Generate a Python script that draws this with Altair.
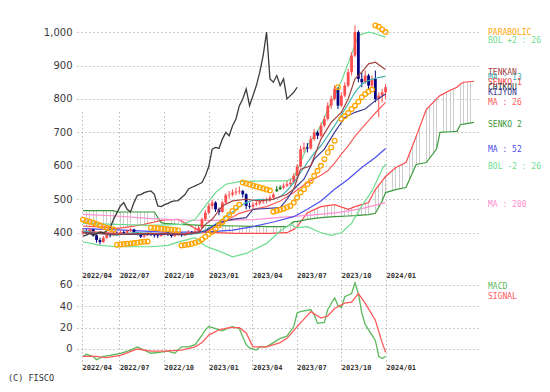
import altair as alt
import pandas as pd

# ---------------- data (weekly, week 0 = 2022-04-17) ----------------
START = pd.Timestamp("2022-04-17")

OPEN = [400, 405, 398, 410, 392, 378, 372, 385, 395, 392, 400, 396, 402, 398, 405, 410, 400, 395, 388, 392,
        398, 395, 392, 390, 396, 400, 395, 390, 393, 398, 392, 396, 402, 400, 405, 415, 440, 460, 480, 490,
        470, 462, 490, 512, 514, 520, 523, 525, 515, 480, 478, 484, 488, 493, 495, 496, 505, 524, 530, 535,
        540, 545, 550, 570, 598, 650, 655, 652, 680, 700, 690, 720, 740, 780, 800, 830, 780, 810, 840, 880,
        930, 1000, 860, 850, 870, 840, 860, 800, 810, 820]
HIGH = [412, 410, 415, 412, 395, 385, 390, 400, 398, 405, 404, 408, 406, 410, 415, 412, 403, 398, 396, 402,
        400, 398, 395, 400, 405, 402, 398, 398, 402, 400, 400, 408, 405, 412, 420, 445, 468, 488, 498, 494,
        475, 495, 518, 525, 530, 535, 538, 528, 518, 490, 492, 495, 500, 502, 505, 512, 520, 540, 542, 548,
        555, 560, 578, 605, 660, 670, 668, 690, 710, 705, 730, 750, 790, 810, 840, 835, 820, 850, 890, 940,
        1020, 1005, 880, 885, 875, 870, 885, 820, 830, 845]
LOW = [392, 395, 396, 388, 370, 365, 370, 382, 386, 390, 392, 394, 394, 396, 402, 396, 392, 384, 385, 390,
       390, 386, 384, 388, 392, 390, 385, 387, 390, 388, 390, 394, 394, 398, 402, 412, 435, 455, 470, 462,
       452, 460, 486, 502, 508, 512, 515, 505, 470, 472, 474, 480, 482, 486, 488, 492, 500, 522, 528, 530,
       536, 540, 546, 565, 595, 640, 640, 648, 675, 680, 685, 715, 735, 770, 795, 770, 775, 805, 835, 870,
       925, 850, 835, 845, 830, 835, 790, 745, 790, 800]
CLOSE = [405, 398, 410, 392, 378, 372, 385, 395, 392, 400, 396, 402, 398, 405, 410, 400, 395, 388, 392, 398,
         395, 392, 390, 396, 400, 395, 390, 393, 398, 392, 396, 402, 400, 405, 415, 440, 460, 480, 490, 470,
         462, 490, 512, 514, 520, 523, 525, 515, 480, 478, 484, 488, 493, 495, 496, 505, 514, 530, 536, 540,
         545, 550, 570, 598, 650, 655, 652, 680, 700, 690, 720, 740, 780, 800, 830, 780, 810, 840, 880, 930,
         1000, 860, 850, 870, 840, 860, 800, 810, 820, 835]
FLAT_WEEKS = [57, 58]
CHIKOU_SHIFT = 26

SAR = [439, 436, 433, 430, 426, 422, 418, 415, 412, 409,
       364, 365, 366, 367, 368, 369, 370, 372, 373, 374,
       415, 414, 413, 412, 411, 410, 409, 408, 407,
       362, 363, 365, 367, 370, 374, 380, 388, 396,
       403, 412, 422, 432, 443, 454, 465, 475, 484,
       550, 547, 544, 541, 538, 535, 532, 529, 526,
       463, 466, 469, 472, 476, 480, 490, 505,
       520, 530, 545, 555, 570, 585, 600, 620, 640, 655, 675,
       835,
       740, 748, 758, 770, 780, 792, 805, 815, 822, 828,
       1020, 1016, 1008, 1000]

CLOUD_W = [0, 8, 9, 10, 12, 18, 21, 23, 24, 28, 35, 45, 55, 60, 62, 63, 66, 70, 74, 78,
           80, 84, 86, 88, 89, 92, 95, 98, 101, 104, 105, 108, 110, 111, 112, 115]
SENKOU1 = [420, 415, 413, 413, 415, 425, 432, 436, 438, 440, 402, 398, 398, 400, 410, 418, 460, 478, 484, 470,
           478, 490, 529, 555, 568, 595, 610, 688, 769, 800, 810, 826, 835, 845, 850, 853]
SENKOU2 = [466, 466, 466, 462, 462, 462, 462, 430, 428, 425, 422, 420, 418, 418, 433, 433, 440, 445, 448, 450,
           451, 454, 458, 495, 520, 529, 535, 604, 610, 650, 700, 702, 703, 723, 725, 730]

MA13_W = [0, 5, 10, 15, 20, 25, 30, 34, 36, 38, 40, 42, 44, 46, 48, 50, 52, 54, 56, 58,
          60, 62, 64, 66, 68, 70, 72, 74, 76, 78, 80, 82, 84, 86, 88, 89]
MA13_V = [405, 398, 393, 400, 398, 395, 394, 398, 408, 420, 432, 448, 462, 478, 490, 497, 500, 498, 500, 508,
          525, 550, 580, 610, 638, 660, 690, 720, 752, 785, 820, 845, 855, 862, 866, 868]
MA26_W = [0, 10, 20, 30, 35, 38, 42, 46, 50, 54, 58, 62, 66, 70, 72, 74, 76, 78, 80, 82, 84, 86, 89]
MA26_V = [405, 398, 396, 397, 400, 412, 435, 458, 470, 478, 495, 520, 550, 572, 585, 608, 635, 660, 688, 712,
          735, 758, 790]
MA52_W = [0, 12, 24, 36, 44, 50, 56, 62, 66, 70, 74, 78, 82, 86, 89]
MA52_V = [412, 408, 402, 402, 408, 418, 432, 448, 470, 495, 530, 560, 595, 625, 652]
MA200_W = [0, 10, 20, 30, 40, 50, 58, 66, 75, 82, 89]
MA200_V = [455, 450, 442, 438, 437, 439, 446, 452, 460, 472, 490]
BOLU_W = [0, 10, 20, 29, 33, 36, 39, 42, 46, 54, 60, 62, 64, 66, 70, 73, 76, 79, 81, 84, 86, 89]
BOLU_V = [428, 425, 422, 425, 440, 480, 520, 545, 553, 555, 555, 565, 610, 660, 720, 790, 853, 934, 990, 1000,
          995, 985]
BOLL_W = [0, 5, 10, 20, 25, 29, 33, 36, 40, 44, 48, 54, 58, 61, 63, 66, 70, 73, 76, 79, 82, 85, 88, 89]
BOLL_V = [373, 362, 358, 358, 362, 375, 385, 360, 345, 328, 338, 368, 405, 425, 415, 418, 400, 392, 400, 428,
          480, 525, 590, 605]
TENKAN_W = [0, 10, 20, 30, 34, 36, 38, 41, 44, 48, 52, 56, 60, 62, 64, 67, 70, 73, 76, 78, 80, 82, 84, 86, 88, 89]
TENKAN_V = [400, 395, 398, 396, 400, 425, 440, 480, 495, 500, 495, 500, 515, 530, 590, 600, 680, 730, 760, 800,
            860, 880, 905, 910, 895, 888]
KIJUN_W = [0, 10, 20, 30, 36, 40, 44, 48, 50, 58, 60, 62, 65, 68, 71, 74, 77, 80, 83, 86, 89]
KIJUN_V = [400, 395, 395, 395, 405, 430, 440, 445, 470, 475, 500, 530, 560, 620, 650, 700, 745, 760, 770, 795, 815]

MACD_W = [0, 1, 3, 4, 6, 8, 11, 14, 16, 18, 20, 23, 25, 27, 29, 31, 33, 35, 36, 37, 39, 41, 43, 44, 46, 48, 49,
          51, 52, 54, 56, 58, 60, 62, 63, 64, 67, 68, 69, 71, 72, 74, 75, 76, 77, 79, 80, 81, 82, 83, 85, 86,
          87, 88, 89]
MACD_V = [-7, -5, -7, -10, -7, -6, -4, -1, 2, -1, -4, -3, -2, -4, 2, 2, 4, 13, 18, 21, 19, 17, 20, 21, 19, 4, 1,
          -1, 2, 2, 6, 10, 12, 21, 34, 35, 37, 32, 24, 25, 37, 48, 41, 39, 49, 52, 62, 52, 34, 23, 13, 8,
          -7, -9, -7]
SIG_W = [0, 4, 7, 11, 16, 20, 24, 29, 33, 35, 37, 40, 43, 46, 48, 50, 54, 58, 60, 63, 67, 70, 72, 74, 77, 79,
         81, 83, 86, 88, 89]
SIG_V = [-7, -7, -8, -6, 0, -2, -2, -1, 2, 6, 13, 18, 20, 20, 15, 2, 2, 6, 10, 21, 35, 29, 31, 38, 43, 44,
         52, 43, 27, 6, -3]

LEG_TEXT = ["PARABOLIC", "BOL +2 : 26", "TENKAN", "MA : 13", "SENKO 1", "CHIKOU", "KIJYON", "MA : 26",
            "SENKO 2", "MA : 52", "BOL -2 : 26", "MA : 200"]
LEG_Y = [996, 974, 877, 862, 848, 833, 817, 788, 722, 647, 596, 483]
MACD_LEG_TEXT = ["MACD", "SIGNAL"]
MACD_LEG_Y = [58, 48.7]

PRICE_TICKS = [400, 500, 600, 700, 800, 900, 1000]
MACD_TICKS = [0, 20, 40, 60]
TICK_DATES = [(2022, 4, 15), (2022, 7, 1), (2022, 10, 1), (2023, 1, 1), (2023, 4, 1), (2023, 7, 1),
              (2023, 10, 1), (2024, 1, 1)]

# ---------------- styles ----------------
C_UP, C_DOWN, C_FLAT = "#ff4d4d", "#000080", "#1e7a1e"
C_MA13, C_MA26, C_MA52, C_MA200 = "#3fb0b0", "#ff5b5b", "#4d4df0", "#ff8fd0"
C_BOL, C_TENKAN, C_KIJUN = "#6ddc8f", "#a3423f", "#3d3d94"
C_S1, C_S2, C_CHIKOU, C_SAR = "#ff4a4a", "#3a9a3a", "#3c3c3c", "#ffa500"
C_MACD, C_SIG = "#5cb85c", "#ff5a5a"
LEG_COLORS = [C_SAR, C_BOL, C_TENKAN, C_MA13, C_S1, C_CHIKOU, C_KIJUN, C_MA26, C_S2, C_MA52, C_BOL, C_MA200]
GRID = "#9a9a9a"


def dates(weeks):
    return [START + pd.Timedelta(days=7 * w) for w in weeks]


# ---------------- tables ----------------
n = len(CLOSE)
candles = pd.DataFrame({"date": dates(range(n)), "o": OPEN, "h": HIGH, "l": LOW, "c": CLOSE})
candles["col"] = [C_FLAT if i in FLAT_WEEKS else (C_UP if CLOSE[i] >= OPEN[i] else C_DOWN) for i in range(n)]

chikou = pd.DataFrame({"date": dates(range(n - CHIKOU_SHIFT)), "v": CLOSE[CHIKOU_SHIFT:]})
sar = pd.DataFrame({"date": dates(range(n)), "v": SAR})
cloud = pd.DataFrame({"date": dates(CLOUD_W), "s1": SENKOU1, "s2": SENKOU2})


def series(name, w, v, color):
    return pd.DataFrame({"series": name, "date": dates(w), "v": v, "color": color})


back_lines = pd.concat([
    series("MA200", MA200_W, MA200_V, C_MA200),
    series("MA52", MA52_W, MA52_V, C_MA52),
    series("BOLU", BOLU_W, BOLU_V, C_BOL),
    series("BOLL", BOLL_W, BOLL_V, C_BOL),
])
front_lines = pd.concat([
    series("MA26", MA26_W, MA26_V, C_MA26),
    series("MA13", MA13_W, MA13_V, C_MA13),
    series("KIJUN", KIJUN_W, KIJUN_V, C_KIJUN),
    series("TENKAN", TENKAN_W, TENKAN_V, C_TENKAN),
])
macd_df = pd.concat([
    series("MACD", MACD_W, MACD_V, C_MACD),
    series("SIGNAL", SIG_W, SIG_V, C_SIG),
])
legend = pd.DataFrame({"t": LEG_TEXT, "y": LEG_Y, "color": LEG_COLORS})
macd_legend = pd.DataFrame({"t": MACD_LEG_TEXT, "y": MACD_LEG_Y, "color": [C_MACD, C_SIG]})

# ---------------- scales & axes ----------------
X_SCALE = alt.Scale(domain=[alt.DateTime(year=2022, month=4, date=15),
                            alt.DateTime(year=2024, month=6, date=28)], nice=False)
PRICE_SCALE = alt.Scale(domain=[300, 1072], range=[258.15, 0], nice=False, zero=False)
MACD_SCALE = alt.Scale(domain=[-20, 70], range=[362.33, 266.33], nice=False, zero=False)
TICKS = [alt.DateTime(year=y, month=m, date=d) for (y, m, d) in TICK_DATES]


def x_axis(offset, grid):
    return alt.Axis(values=TICKS, format="%Y/%m", formatType="time", orient="bottom", offset=offset,
                    grid=grid, gridColor=GRID, gridDash=[1, 3], gridWidth=1, domain=False, ticks=False,
                    tickSize=0, labelAlign="left", labelBaseline="top", labelPadding=2,
                    labelFont="DejaVu Sans Mono", labelFontSize=7, labelFontWeight="bold",
                    labelColor="#333333", labelFlush=False, labelOverlap=False, labelBound=False, title=None)


def y_axis(vals, fmt):
    return alt.Axis(values=vals, format=fmt, orient="left", grid=True, gridColor=GRID, gridDash=[1, 3],
                    gridWidth=1, domain=False, ticks=False, tickSize=0, labelPadding=5,
                    labelFont="DejaVu Sans", labelFontSize=10, labelColor="#3a3a3a", title=None)


X_TOP = alt.X("date:T", scale=X_SCALE, axis=x_axis(-100.5, True))
X_BOT = alt.X("date:T", scale=X_SCALE, axis=x_axis(-8.5, False))
PRICE_AXIS = y_axis(PRICE_TICKS, ",d")
MACD_AXIS = y_axis(MACD_TICKS, "d")


def yp(field):
    return alt.Y(field, type="quantitative", scale=PRICE_SCALE, axis=PRICE_AXIS)


def ym(field):
    return alt.Y(field, type="quantitative", scale=MACD_SCALE, axis=MACD_AXIS)


# vertical hatch for the ichimoku cloud
CLEAR, HATCH = "rgba(255,255,255,0)", "#cdcdcd"
span = CLOUD_W[-1] - CLOUD_W[0]
half = 0.45 / 401
stops = []
for k in range(span + 1):
    c = k / span
    a, b = max(0.0, c - half), min(1.0, c + half)
    stops += [alt.GradientStop(color=CLEAR, offset=a), alt.GradientStop(color=HATCH, offset=a),
              alt.GradientStop(color=HATCH, offset=b), alt.GradientStop(color=CLEAR, offset=b)]
hatch = alt.Gradient(gradient="linear", stops=stops, x1=0, x2=1, y1=0, y2=0)

# ---------------- price panel ----------------
cloud_area = alt.Chart(cloud).mark_area(color=hatch, line=False).encode(x=X_TOP, y=yp("s1"), y2="s2")
s1_line = alt.Chart(cloud).mark_line(color=C_S1, strokeWidth=1.2).encode(x=X_TOP, y=yp("s1"))
s2_line = alt.Chart(cloud).mark_line(color=C_S2, strokeWidth=1.2).encode(x=X_TOP, y=yp("s2"))
back = alt.Chart(back_lines).mark_line(strokeWidth=1.2).encode(
    x=X_TOP, y=yp("v"), color=alt.Color("color:N", scale=None), detail="series:N")
wick = alt.Chart(candles).mark_rule(strokeWidth=1).encode(
    x=X_TOP, y=yp("l"), y2="h", color=alt.Color("col:N", scale=None))
body = alt.Chart(candles).mark_bar(size=2.8).encode(
    x=X_TOP, y=yp("o"), y2="c", color=alt.Color("col:N", scale=None))
front = alt.Chart(front_lines).mark_line(strokeWidth=1.2).encode(
    x=X_TOP, y=yp("v"), color=alt.Color("color:N", scale=None), detail="series:N")
chikou_line = alt.Chart(chikou).mark_line(color=C_CHIKOU, strokeWidth=1.3).encode(x=X_TOP, y=yp("v"))
sar_pts = alt.Chart(sar).mark_point(shape="circle", filled=False, size=22, strokeWidth=1.3,
                                    color=C_SAR, opacity=1).encode(x=X_TOP, y=yp("v"))
labels = alt.Chart(legend).mark_text(align="left", baseline="middle", font="DejaVu Sans Mono",
                                     fontSize=8).encode(
    x=alt.value(411), y=yp("y"), text="t:N", color=alt.Color("color:N", scale=None))

price = alt.layer(cloud_area, s1_line, s2_line, back, wick, body, front, chikou_line, sar_pts, labels)

# ---------------- MACD panel ----------------
macd_lines = alt.Chart(macd_df).mark_line(strokeWidth=1.3).encode(
    x=X_BOT, y=ym("v"), color=alt.Color("color:N", scale=None), detail="series:N")
macd_labels = alt.Chart(macd_legend).mark_text(align="left", baseline="middle", font="DejaVu Sans Mono",
                                               fontSize=8).encode(
    x=alt.value(411), y=ym("y"), text="t:N", color=alt.Color("color:N", scale=None))
copyright_txt = alt.Chart(pd.DataFrame({"t": ["(C) FISCO"]})).mark_text(
    align="left", baseline="middle", font="DejaVu Sans Mono", fontSize=8.5, color="#333333").encode(
    x=alt.value(-69), y=alt.value(370), text="t:N")

macd = alt.layer(macd_lines, macd_labels, copyright_txt)

chart = (
    alt.layer(price, macd)
    .resolve_scale(y="independent")
    .resolve_axis(x="independent", y="independent")
    .properties(width=401, height=362, autosize=alt.AutoSizeParams(type="none"),
                padding={"left": 69, "top": 0, "right": 64, "bottom": 14}, background="white")
    .configure_view(strokeWidth=0)
)

chart.save("out.html", embed_options={"renderer": "svg", "actions": False})
